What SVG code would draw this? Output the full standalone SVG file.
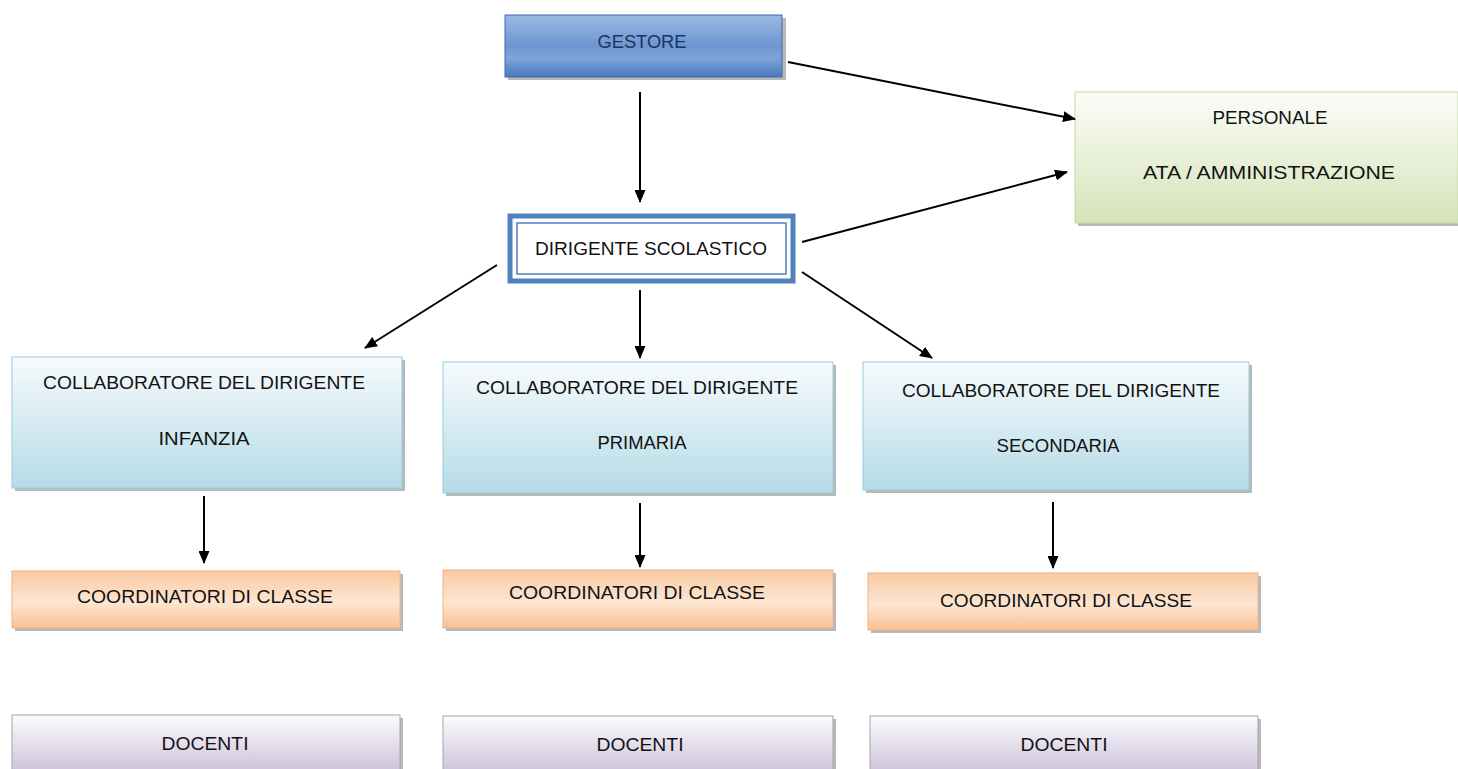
<svg xmlns="http://www.w3.org/2000/svg" width="1458" height="769" viewBox="0 0 1458 769">
<style>
.t{font-family:"Liberation Sans",Arial,sans-serif;font-size:19px;fill:#121212;text-anchor:middle}
.sh{fill:#808080;opacity:0.55}
.conn line{stroke:#000;stroke-width:2;marker-end:url(#ah)}
</style>
<defs>
<marker id="ah" viewBox="0 0 13 11" refX="12" refY="5.5" markerWidth="13" markerHeight="11" markerUnits="userSpaceOnUse" orient="auto"><path d="M0,0 L13,5.5 L0,11 Z" fill="#000"/></marker>
<linearGradient id="gBlue" x1="0" y1="0" x2="0" y2="1"><stop offset="0" stop-color="#9bb8e3"/><stop offset="0.5" stop-color="#6e95d2"/><stop offset="0.7" stop-color="#7fa3da"/><stop offset="1" stop-color="#4a78bd"/></linearGradient>
<linearGradient id="gGreen" x1="0" y1="0" x2="0" y2="1"><stop offset="0" stop-color="#fcfdf8"/><stop offset="1" stop-color="#d5e3b9"/></linearGradient>
<linearGradient id="gCyan" x1="0" y1="0" x2="0" y2="1"><stop offset="0" stop-color="#f7fbfd"/><stop offset="1" stop-color="#b5dbe7"/></linearGradient>
<linearGradient id="gOrange" x1="0" y1="0" x2="0" y2="1"><stop offset="0" stop-color="#f9c9a2"/><stop offset="0.55" stop-color="#fde6d2"/><stop offset="1" stop-color="#f8c193"/></linearGradient>
<linearGradient id="gPurple" x1="0" y1="0" x2="0" y2="1"><stop offset="0" stop-color="#fbfbfd"/><stop offset="1" stop-color="#cbbfd9"/></linearGradient>
</defs>
<rect width="1458" height="769" fill="#fff"/>

<g id="gestore">
<rect class="sh" x="508" y="18" width="278" height="62"/>
<rect x="505" y="15" width="277" height="62" fill="url(#gBlue)" stroke="#3d6aaa" stroke-width="1"/>
<text class="t" x="642" y="48" textLength="89" lengthAdjust="spacingAndGlyphs" style="fill:#17375e">GESTORE</text>
</g>

<g id="dirigente">
<rect x="510" y="216" width="283" height="65" fill="#fff" stroke="#4f81bd" stroke-width="5"/>
<rect x="517" y="223" width="269" height="51" fill="#fff" stroke="#4f81bd" stroke-width="1.5"/>
<text class="t" x="651" y="255" textLength="232" lengthAdjust="spacingAndGlyphs">DIRIGENTE SCOLASTICO</text>
</g>

<g id="personale">
<rect class="sh" x="1078" y="95" width="382" height="131"/>
<rect x="1075" y="92" width="383" height="131" fill="url(#gGreen)" stroke="#c6d9a0" stroke-width="1"/>
<text class="t" x="1270" y="124" textLength="115" lengthAdjust="spacingAndGlyphs">PERSONALE</text>
<text class="t" x="1269" y="179" textLength="252" lengthAdjust="spacingAndGlyphs">ATA / AMMINISTRAZIONE</text>
</g>

<g id="collab-infanzia">
<rect class="sh" x="15" y="360" width="390" height="131"/>
<rect x="12" y="357" width="390" height="131" fill="url(#gCyan)" stroke="#93cddd" stroke-width="1"/>
<text class="t" x="204" y="389" textLength="322" lengthAdjust="spacingAndGlyphs">COLLABORATORE DEL DIRIGENTE</text>
<text class="t" x="204" y="445" textLength="91" lengthAdjust="spacingAndGlyphs">INFANZIA</text>
</g>

<g id="collab-primaria">
<rect class="sh" x="446" y="365" width="390" height="131"/>
<rect x="443" y="362" width="390" height="131" fill="url(#gCyan)" stroke="#93cddd" stroke-width="1"/>
<text class="t" x="637" y="394" textLength="322" lengthAdjust="spacingAndGlyphs">COLLABORATORE DEL DIRIGENTE</text>
<text class="t" x="642" y="449" textLength="89" lengthAdjust="spacingAndGlyphs">PRIMARIA</text>
</g>

<g id="collab-secondaria">
<rect class="sh" x="866" y="365" width="386" height="128"/>
<rect x="863" y="362" width="386" height="128" fill="url(#gCyan)" stroke="#93cddd" stroke-width="1"/>
<text class="t" x="1061" y="397" textLength="318" lengthAdjust="spacingAndGlyphs">COLLABORATORE DEL DIRIGENTE</text>
<text class="t" x="1058" y="452" textLength="123" lengthAdjust="spacingAndGlyphs">SECONDARIA</text>
</g>

<g id="coord-infanzia">
<rect class="sh" x="15" y="574" width="388" height="57"/>
<rect x="12" y="571" width="388" height="57" fill="url(#gOrange)" stroke="#f4b183" stroke-width="1"/>
<text class="t" x="205" y="603" textLength="256" lengthAdjust="spacingAndGlyphs">COORDINATORI DI CLASSE</text>
</g>

<g id="coord-primaria">
<rect class="sh" x="446" y="573" width="390" height="58"/>
<rect x="443" y="570" width="390" height="58" fill="url(#gOrange)" stroke="#f4b183" stroke-width="1"/>
<text class="t" x="637" y="599" textLength="256" lengthAdjust="spacingAndGlyphs">COORDINATORI DI CLASSE</text>
</g>

<g id="coord-secondaria">
<rect class="sh" x="871" y="576" width="390" height="57"/>
<rect x="868" y="573" width="390" height="57" fill="url(#gOrange)" stroke="#f4b183" stroke-width="1"/>
<text class="t" x="1066" y="607" textLength="252" lengthAdjust="spacingAndGlyphs">COORDINATORI DI CLASSE</text>
</g>

<g id="docenti-infanzia">
<rect class="sh" x="15" y="718" width="388" height="60"/>
<rect x="12" y="715" width="388" height="60" fill="url(#gPurple)" stroke="#a6a6a6" stroke-width="1"/>
<text class="t" x="205" y="750" textLength="87" lengthAdjust="spacingAndGlyphs">DOCENTI</text>
</g>

<g id="docenti-primaria">
<rect class="sh" x="446" y="719" width="390" height="60"/>
<rect x="443" y="716" width="390" height="60" fill="url(#gPurple)" stroke="#a6a6a6" stroke-width="1"/>
<text class="t" x="640" y="751" textLength="87" lengthAdjust="spacingAndGlyphs">DOCENTI</text>
</g>

<g id="docenti-secondaria">
<rect class="sh" x="873" y="719" width="388" height="60"/>
<rect x="870" y="716" width="388" height="60" fill="url(#gPurple)" stroke="#a6a6a6" stroke-width="1"/>
<text class="t" x="1064" y="751" textLength="87" lengthAdjust="spacingAndGlyphs">DOCENTI</text>
</g>

<g id="connectors" class="conn">
<line x1="640" y1="92" x2="640" y2="202"/>
<line x1="788" y1="62" x2="1075" y2="119"/>
<line x1="802" y1="242" x2="1067" y2="172"/>
<line x1="497" y1="265" x2="365" y2="348"/>
<line x1="640" y1="290" x2="640" y2="358"/>
<line x1="802" y1="272" x2="932" y2="358"/>
<line x1="204" y1="496" x2="204" y2="563"/>
<line x1="640" y1="503" x2="640" y2="567"/>
<line x1="1053" y1="502" x2="1053" y2="568"/>
</g>
</svg>
